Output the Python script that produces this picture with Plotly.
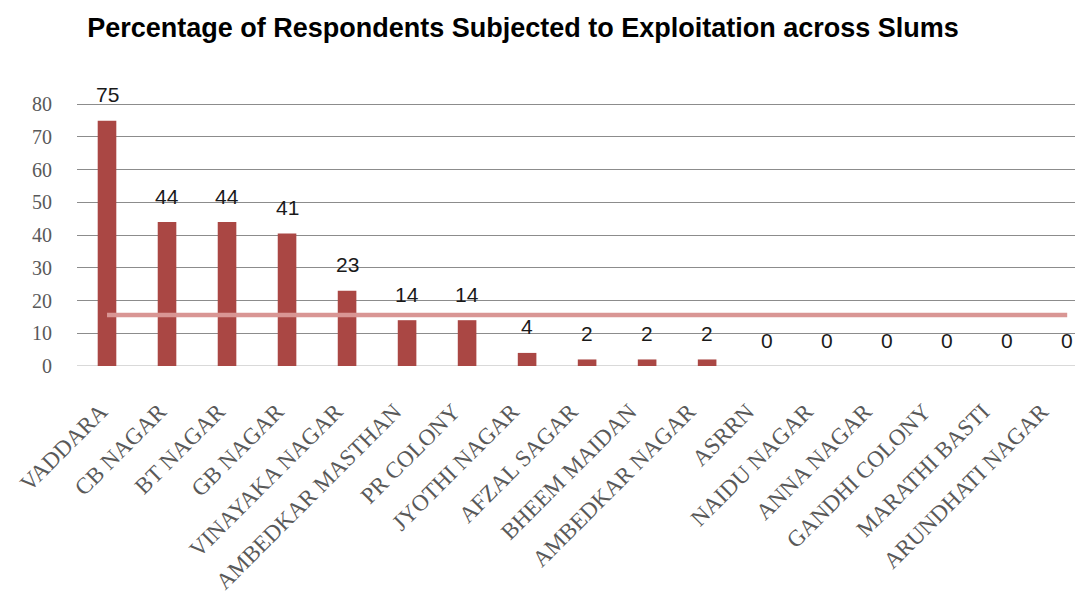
import plotly.graph_objects as go

categories = ["VADDARA", "CB NAGAR", "BT NAGAR", "GB NAGAR", "VINAYAKA NAGAR",
              "AMBEDKAR MASTHAN", "PR COLONY", "JYOTHI NAGAR", "AFZAL SAGAR",
              "BHEEM MAIDAN", "AMBEDKAR NAGAR", "ASRRN", "NAIDU NAGAR",
              "ANNA NAGAR", "GANDHI COLONY", "MARATHI BASTI", "ARUNDHATI NAGAR"]
values = [75, 44, 44, 41, 23, 14, 14, 4, 2, 2, 2, 0, 0, 0, 0, 0, 0]
bar_heights = [75, 44, 44, 40.5, 23, 14, 14, 4, 2, 2, 2, 0, 0, 0, 0, 0, 0]
mean_value = sum(values) / len(values)
mean_line = [mean_value] * len(categories)
y_ticks = [0, 10, 20, 30, 40, 50, 60, 70, 80]
positions = list(range(len(categories)))

fig = go.Figure()
fig.add_trace(go.Bar(x=positions, y=bar_heights, width=0.31,
                     marker=dict(color="#AA4744", line=dict(width=0)),
                     hoverinfo="skip"))
fig.add_trace(go.Scatter(x=positions, y=mean_line, mode="lines",
                         line=dict(color="#D99694", width=4.5),
                         hoverinfo="skip"))
# invisible trace carrying the category label axis
fig.add_trace(go.Scatter(x=positions, y=values, mode="markers", xaxis="x2",
                         marker=dict(opacity=0), hoverinfo="skip"))

for p, v, h in zip(positions, values, bar_heights):
    fig.add_annotation(x=p, y=h, text=str(v), showarrow=False, yshift=26,
                       font=dict(family="Liberation Sans", size=21, color="#1a1a1a"))

fig.update_layout(
    width=1075, height=609,
    margin=dict(l=77, r=0, t=101, b=243, autoexpand=False),
    paper_bgcolor="white", plot_bgcolor="white",
    showlegend=False,
    title=dict(text="<b>Percentage of Respondents Subjected to Exploitation across Slums</b>",
               x=0.4865, xanchor="center", y=0.955, yanchor="middle",
               font=dict(family="Liberation Sans", size=27, color="black")),
    xaxis=dict(range=[-0.5, 16.13], showticklabels=False, showgrid=False,
               showline=False, zeroline=False, automargin=False, ticks=""),
    xaxis2=dict(overlaying="x", side="bottom", range=[-0.403, 16.57],
                tickvals=positions, ticktext=categories, tickangle=-45,
                showgrid=False, showline=False, zeroline=False, automargin=False,
                ticks="outside", ticklen=22, tickcolor="rgba(0,0,0,0)",
                tickfont=dict(family="Liberation Serif", size=23, color="#595959")),
    yaxis=dict(range=[0, 81], tickvals=y_ticks, showgrid=True,
               gridcolor="#8C8C8C", gridwidth=1, zeroline=False, automargin=False,
               showline=False, ticks="outside", ticklen=20,
               tickcolor="rgba(0,0,0,0)",
               tickfont=dict(family="Liberation Serif", size=20, color="#595959")),
)
fig.add_shape(type="line", xref="paper", yref="y", x0=0, x1=1, y0=0, y1=0,
              line=dict(color="#D9D9D9", width=2), layer="below")

fig.write_html("out.html", config={"displayModeBar": False},
               post_script="document.body.style.margin='0';")
